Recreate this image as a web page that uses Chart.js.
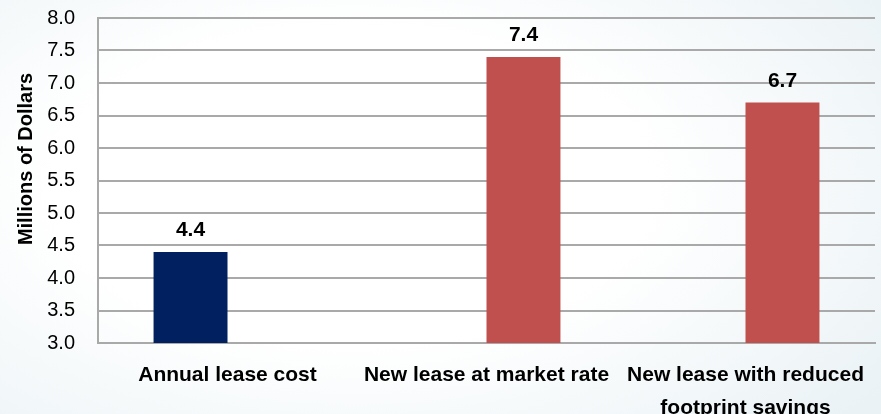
<!DOCTYPE html>
<html>
<head>
<meta charset="utf-8">
<title>Lease cost comparison</title>
<script src="https://cdn.jsdelivr.net/npm/chart.js@4/dist/chart.umd.min.js"></script>
<style>
    html, body {
        margin: 0;
        padding: 0;
    }
    body {
        width: 881px;
        height: 414px;
        overflow: hidden;
        background: radial-gradient(ellipse 75% 85% at 40% 45%, #ffffff 45%, #eaf2f5 100%);
    }
    .chart-wrap {
        position: relative;
        width: 881px;
        height: 414px;
    }
</style>
</head>
<body>
<div class="chart-wrap">
    <canvas id="leaseChart"></canvas>
</div>
<script>
// Data
const categories = ['Annual lease cost', 'New lease at market rate', ['New lease with reduced', 'footprint savings']];
const currentLease = [4.4, null, null];
const newLease = [null, 7.4, 6.7];
const yTicks = [3.0, 3.5, 4.0, 4.5, 5.0, 5.5, 6.0, 6.5, 7.0, 7.5, 8.0];
const yTitle = 'Millions of Dollars';

const FONT = '"Liberation Sans", Arial, sans-serif';
const GRID = '#a9a9a9';

// Value labels above each bar
const valueLabels = {
    id: 'valueLabels',
    afterDatasetsDraw(chart) {
        const { ctx } = chart;
        ctx.save();
        ctx.font = `bold 21px ${FONT}`;
        ctx.fillStyle = '#000';
        ctx.textAlign = 'center';
        ctx.textBaseline = 'alphabetic';
        chart.data.datasets.forEach((ds, di) => {
            chart.getDatasetMeta(di).data.forEach((bar, i) => {
                const v = ds.data[i];
                if (v == null) return;
                ctx.fillText(v.toFixed(1), bar.x, bar.y - 16);
            });
        });
        ctx.restore();
    }
};

// Rotated y axis title, sits a little above the plot's middle
const axisTitle = {
    id: 'axisTitle',
    afterDraw(chart) {
        const { ctx } = chart;
        ctx.save();
        ctx.translate(26, 159);
        ctx.rotate(-Math.PI / 2);
        ctx.font = `bold 20px ${FONT}`;
        ctx.fillStyle = '#000';
        ctx.textAlign = 'center';
        ctx.textBaseline = 'middle';
        ctx.fillText(yTitle, 0, 0);
        ctx.restore();
    }
};

new Chart(document.getElementById('leaseChart'), {
    type: 'bar',
    plugins: [valueLabels, axisTitle],
    data: {
        labels: categories,
        datasets: [{
            label: 'Current',
            data: currentLease,
            backgroundColor: '#002060',
            categoryPercentage: 0.571,
            barPercentage: 1.0
        }, {
            label: 'New',
            data: newLease,
            backgroundColor: '#c0504d',
            categoryPercentage: 0.571,
            barPercentage: 1.0
        }]
    },
    options: {
        responsive: true,
        maintainAspectRatio: false,
        animation: false,
        layout: {
            padding: { top: 18, right: 6, left: 0, bottom: 0 }
        },
        plugins: {
            legend: { display: false },
            tooltip: { enabled: false }
        },
        scales: {
            x: {
                grid: { display: false, drawTicks: false },
                border: { display: true, color: GRID, width: 2 },
                ticks: {
                    color: '#000',
                    font: { family: FONT, size: 21, weight: 'bold', lineHeight: 1.55 },
                    padding: 16,
                    maxRotation: 0,
                    autoSkip: false
                },
                afterFit(scale) {
                    scale.height = 71;
                }
            },
            y: {
                min: yTicks[0],
                max: yTicks[yTicks.length - 1],
                grid: { color: GRID, lineWidth: 2, drawTicks: false },
                border: { display: true, color: GRID, width: 2 },
                afterBuildTicks(scale) {
                    scale.ticks = yTicks.map(v => ({ value: v }));
                },
                ticks: {
                    color: '#000',
                    font: { family: FONT, size: 20 },
                    padding: 23,
                    callback: (v) => Number(v).toFixed(1)
                },
                afterFit(scale) {
                    // tick padding is meant horizontally only
                    scale.width = 98;
                    scale.paddingTop = 0;
                    scale.paddingBottom = 0;
                }
            }
        }
    }
});
</script>
</body>
</html>
